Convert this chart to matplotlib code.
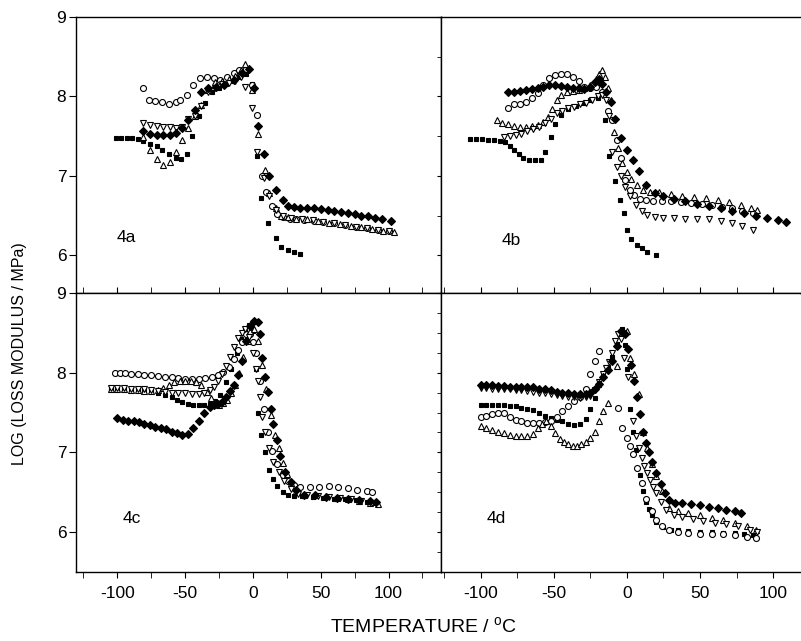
import matplotlib
matplotlib.use("Agg")
import matplotlib.pyplot as plt
from matplotlib.ticker import MultipleLocator

plt.rcParams['font.family'] = ['Liberation Sans', 'DejaVu Sans']
plt.rcParams['mathtext.fontset'] = 'custom'
plt.rcParams['mathtext.rm'] = 'Liberation Sans'
plt.rcParams['axes.unicode_minus'] = False

# ---- 4a ----
a_sq_t = [-101, -97, -93, -89, -85, -81, -76, -71, -67, -62, -57, -53, -49, -45, -40, -35, -30, -25, -20, -15, -10, -5, -1, 3, 6, 11, 17, 21, 26, 30, 35]
a_sq_v = [7.48, 7.48, 7.47, 7.47, 7.46, 7.44, 7.40, 7.37, 7.33, 7.27, 7.23, 7.21, 7.28, 7.50, 7.75, 7.92, 8.05, 8.10, 8.15, 8.19, 8.24, 8.28, 8.15, 7.25, 6.72, 6.41, 6.22, 6.10, 6.06, 6.04, 6.01]
a_ci_t = [-81, -77, -72, -67, -62, -57, -54, -49, -44, -39, -34, -29, -24, -19, -14, -10, -5, -1, 3, 7, 10, 14, 18, 22, 27, 32, 38, 45, 52, 60, 68, 76, 84, 92, 100]
a_ci_v = [8.10, 7.95, 7.94, 7.93, 7.91, 7.93, 7.95, 8.02, 8.14, 8.23, 8.25, 8.23, 8.21, 8.25, 8.29, 8.33, 8.35, 8.14, 7.77, 7.00, 6.80, 6.62, 6.52, 6.48, 6.46, 6.45, 6.44, 6.43, 6.42, 6.40, 6.38, 6.36, 6.34, 6.32, 6.30]
a_tu_t = [-81, -76, -71, -66, -61, -57, -52, -48, -43, -38, -33, -28, -23, -18, -13, -9, -6, -1, 4, 9, 12, 17, 21, 26, 32, 40, 48, 56, 64, 72, 80, 88, 96, 104]
a_tu_v = [7.49, 7.32, 7.21, 7.14, 7.17, 7.30, 7.45, 7.60, 7.75, 7.89, 8.08, 8.18, 8.20, 8.22, 8.26, 8.33, 8.41, 8.08, 7.53, 7.07, 6.78, 6.59, 6.50, 6.48, 6.46, 6.45, 6.43, 6.41, 6.39, 6.37, 6.35, 6.33, 6.31, 6.29]
a_td_t = [-81, -76, -71, -66, -61, -57, -52, -48, -43, -38, -33, -28, -23, -18, -13, -9, -6, -1, 3, 8, 12, 17, 22, 28, 36, 44, 52, 60, 68, 76, 84, 92, 100]
a_td_v = [7.66, 7.64, 7.63, 7.62, 7.61, 7.60, 7.62, 7.72, 7.75, 7.88, 8.06, 8.10, 8.15, 8.17, 8.20, 8.24, 8.12, 7.85, 7.30, 6.97, 6.74, 6.57, 6.50, 6.47, 6.45, 6.44, 6.42, 6.40, 6.38, 6.36, 6.34, 6.32, 6.30]
a_di_t = [-81, -76, -71, -66, -61, -57, -52, -48, -43, -38, -33, -27, -21, -14, -8, -3, 1, 4, 8, 12, 17, 22, 26, 30, 35, 40, 45, 50, 55, 60, 65, 70, 75, 80, 85, 90, 95, 102]
a_di_v = [7.57, 7.53, 7.52, 7.51, 7.52, 7.54, 7.60, 7.70, 7.83, 8.05, 8.11, 8.12, 8.14, 8.21, 8.29, 8.35, 8.10, 7.63, 7.27, 7.00, 6.82, 6.69, 6.62, 6.61, 6.60, 6.59, 6.59, 6.58, 6.57, 6.56, 6.55, 6.53, 6.52, 6.50, 6.49, 6.47, 6.45, 6.43]

# ---- 4b ----
b_sq_t = [-107, -103, -99, -95, -91, -87, -83, -80, -77, -74, -71, -67, -63, -59, -56, -52, -49, -45, -40, -35, -30, -25, -20, -15, -12, -8, -5, -2, 0, 3, 7, 10, 14, 20]
b_sq_v = [7.46, 7.46, 7.46, 7.45, 7.45, 7.44, 7.42, 7.37, 7.32, 7.27, 7.23, 7.20, 7.20, 7.20, 7.30, 7.49, 7.65, 7.77, 7.84, 7.88, 7.92, 7.96, 7.98, 7.70, 7.25, 6.93, 6.70, 6.53, 6.32, 6.21, 6.13, 6.09, 6.04, 6.00]
b_ci_t = [-81, -77, -73, -69, -65, -61, -57, -53, -49, -45, -41, -37, -33, -29, -25, -21, -17, -13, -10, -7, -4, -1, 2, 5, 9, 13, 18, 24, 30, 37, 44, 51, 58, 65, 72, 79, 86]
b_ci_v = [7.85, 7.90, 7.91, 7.93, 7.98, 8.04, 8.14, 8.23, 8.27, 8.28, 8.28, 8.25, 8.19, 8.12, 8.10, 8.12, 8.05, 7.82, 7.70, 7.45, 7.22, 6.95, 6.82, 6.76, 6.71, 6.69, 6.68, 6.68, 6.68, 6.67, 6.66, 6.65, 6.63, 6.61, 6.59, 6.56, 6.53]
b_tu_t = [-89, -85, -81, -77, -73, -69, -65, -61, -57, -54, -51, -48, -45, -41, -37, -33, -29, -25, -21, -19, -17, -15, -13, -11, -9, -6, -3, 0, 3, 7, 11, 16, 22, 30, 38, 46, 54, 62, 70, 78, 85, 89]
b_tu_v = [7.70, 7.67, 7.65, 7.63, 7.62, 7.62, 7.63, 7.64, 7.68, 7.74, 7.84, 7.95, 8.02, 8.05, 8.07, 8.08, 8.10, 8.14, 8.22, 8.28, 8.33, 8.25, 8.10, 7.95, 7.55, 7.35, 7.16, 7.05, 6.96, 6.88, 6.82, 6.80, 6.79, 6.77, 6.75, 6.73, 6.72, 6.70, 6.67, 6.63, 6.59, 6.57]
b_td_t = [-84, -80, -76, -72, -68, -64, -60, -56, -52, -48, -44, -40, -36, -32, -28, -24, -20, -17, -14, -12, -10, -7, -4, -1, 2, 6, 10, 14, 19, 25, 32, 40, 48, 56, 64, 72, 79, 86]
b_td_v = [7.49, 7.50, 7.51, 7.53, 7.56, 7.59, 7.62, 7.66, 7.72, 7.79, 7.82, 7.85, 7.87, 7.90, 7.92, 7.95, 8.01, 8.02, 7.95, 7.75, 7.30, 7.11, 7.00, 6.86, 6.74, 6.63, 6.56, 6.51, 6.48, 6.47, 6.47, 6.46, 6.46, 6.45, 6.43, 6.40, 6.37, 6.32]
b_di_t = [-81, -77, -73, -69, -65, -61, -57, -53, -49, -45, -41, -37, -33, -29, -25, -22, -19, -17, -14, -11, -8, -4, 0, 4, 8, 13, 19, 25, 32, 40, 48, 56, 64, 72, 80, 88, 96, 103, 109]
b_di_v = [8.05, 8.06, 8.07, 8.08, 8.09, 8.11, 8.12, 8.14, 8.14, 8.13, 8.12, 8.11, 8.10, 8.09, 8.12, 8.18, 8.22, 8.15, 8.06, 7.93, 7.72, 7.47, 7.32, 7.20, 7.06, 6.89, 6.78, 6.74, 6.71, 6.68, 6.65, 6.62, 6.59, 6.56, 6.53, 6.50, 6.47, 6.44, 6.42]

# ---- 4c ----
c_sq_t = [-105, -100, -95, -90, -85, -80, -75, -70, -65, -60, -56, -52, -48, -44, -40, -36, -32, -28, -24, -20, -16, -12, -9, -6, -3, 0, 2, 4, 6, 9, 12, 15, 18, 22, 26, 30, 36, 44, 52, 60, 68, 76, 84, 90]
c_sq_v = [7.80, 7.80, 7.80, 7.79, 7.79, 7.78, 7.77, 7.75, 7.72, 7.69, 7.66, 7.63, 7.61, 7.60, 7.59, 7.59, 7.61, 7.64, 7.72, 7.88, 8.05, 8.25, 8.42, 8.55, 8.60, 8.52, 8.05, 7.50, 7.22, 7.00, 6.78, 6.66, 6.58, 6.50, 6.46, 6.45, 6.45, 6.44, 6.43, 6.42, 6.41, 6.40, 6.38, 6.37]
c_ci_t = [-102, -98, -94, -90, -85, -80, -75, -70, -65, -60, -55, -50, -45, -40, -35, -30, -26, -22, -18, -14, -11, -8, -5, -2, 0, 2, 5, 8, 11, 14, 18, 22, 26, 30, 35, 42, 49, 56, 63, 70, 77, 84, 88]
c_ci_v = [8.00, 8.00, 7.99, 7.98, 7.98, 7.97, 7.97, 7.96, 7.95, 7.94, 7.93, 7.92, 7.92, 7.92, 7.93, 7.94, 7.97, 8.01, 8.07, 8.17, 8.28, 8.38, 8.48, 8.48, 8.38, 8.25, 7.90, 7.55, 7.25, 7.02, 6.85, 6.72, 6.64, 6.59, 6.57, 6.57, 6.57, 6.58, 6.57, 6.55, 6.53, 6.51, 6.50]
c_tu_t = [-105, -100, -95, -90, -85, -80, -75, -70, -66, -62, -58, -54, -50, -46, -42, -38, -34, -31, -28, -25, -22, -19, -16, -13, -10, -7, -4, -2, 1, 4, 7, 10, 13, 16, 19, 22, 25, 28, 32, 38, 46, 54, 62, 70, 78, 86, 92]
c_tu_v = [7.79, 7.79, 7.79, 7.78, 7.78, 7.77, 7.77, 7.78, 7.81, 7.85, 7.88, 7.89, 7.90, 7.90, 7.88, 7.84, 7.76, 7.68, 7.62, 7.60, 7.62, 7.66, 7.74, 7.85, 8.00, 8.20, 8.40, 8.52, 8.55, 8.40, 8.10, 7.80, 7.47, 7.22, 7.05, 6.87, 6.73, 6.62, 6.52, 6.47, 6.46, 6.45, 6.43, 6.41, 6.39, 6.37, 6.35]
c_td_t = [-105, -100, -95, -90, -85, -80, -75, -70, -65, -60, -55, -50, -45, -40, -36, -32, -29, -26, -23, -20, -17, -14, -11, -8, -6, -3, 0, 2, 4, 5, 7, 9, 12, 15, 19, 23, 28, 33, 40, 48, 56, 64, 72, 80, 88]
c_td_v = [7.81, 7.81, 7.81, 7.80, 7.80, 7.79, 7.78, 7.77, 7.76, 7.75, 7.75, 7.74, 7.73, 7.73, 7.75, 7.78, 7.82, 7.89, 7.98, 8.08, 8.20, 8.32, 8.43, 8.50, 8.55, 8.45, 8.25, 8.05, 7.89, 7.70, 7.45, 7.25, 7.05, 6.88, 6.75, 6.64, 6.54, 6.48, 6.46, 6.45, 6.44, 6.43, 6.41, 6.39, 6.37]
c_di_t = [-100, -96, -92, -88, -84, -80, -76, -72, -68, -64, -60, -56, -52, -48, -44, -40, -36, -32, -29, -26, -23, -20, -17, -14, -11, -8, -5, -2, 1, 4, 5, 7, 9, 11, 13, 15, 18, 20, 24, 28, 32, 38, 46, 54, 62, 70, 78, 86, 91]
c_di_v = [7.43, 7.41, 7.40, 7.39, 7.38, 7.36, 7.34, 7.32, 7.31, 7.29, 7.26, 7.24, 7.22, 7.23, 7.30, 7.40, 7.50, 7.57, 7.60, 7.61, 7.63, 7.69, 7.77, 7.85, 7.97, 8.15, 8.40, 8.58, 8.65, 8.63, 8.48, 8.19, 7.94, 7.76, 7.55, 7.35, 7.15, 6.95, 6.76, 6.63, 6.53, 6.47, 6.46, 6.44, 6.43, 6.42, 6.40, 6.39, 6.38]

# ---- 4d ----
d_sq_t = [-100, -96, -92, -88, -84, -80, -76, -72, -68, -64, -60, -56, -52, -48, -44, -40, -36, -32, -28, -25, -22, -19, -16, -13, -10, -7, -5, -3, -1, 0, 2, 4, 6, 9, 11, 13, 15, 17, 20, 25, 30, 35, 42, 50, 58, 66, 74, 80, 86]
d_sq_v = [7.60, 7.60, 7.60, 7.59, 7.59, 7.58, 7.58, 7.56, 7.55, 7.53, 7.50, 7.46, 7.43, 7.41, 7.39, 7.35, 7.34, 7.36, 7.42, 7.55, 7.68, 7.85, 7.96, 8.07, 8.20, 8.36, 8.48, 8.55, 8.35, 8.05, 7.55, 7.25, 7.03, 6.72, 6.52, 6.38, 6.29, 6.22, 6.13, 6.06, 6.03, 6.02, 6.01, 6.00, 6.00, 5.99, 5.99, 5.98, 5.96]
d_ci_t = [-100, -96, -92, -88, -84, -80, -76, -72, -68, -64, -60, -56, -52, -48, -44, -40, -36, -32, -28, -25, -22, -19, -6, -3, 0, 2, 4, 7, 10, 13, 17, 20, 24, 29, 35, 42, 50, 58, 66, 74, 82, 88]
d_ci_v = [7.45, 7.46, 7.48, 7.50, 7.49, 7.45, 7.41, 7.39, 7.37, 7.37, 7.37, 7.38, 7.39, 7.44, 7.52, 7.58, 7.64, 7.70, 7.80, 7.98, 8.15, 8.27, 7.56, 7.31, 7.18, 7.08, 6.98, 6.80, 6.62, 6.42, 6.26, 6.15, 6.07, 6.03, 6.00, 5.99, 5.98, 5.98, 5.97, 5.96, 5.94, 5.92]
d_tu_t = [-100, -96, -92, -88, -84, -80, -76, -72, -68, -64, -61, -58, -55, -52, -49, -46, -43, -40, -37, -34, -31, -28, -25, -22, -19, -16, -13, -7, -3, 0, 2, 5, 8, 11, 14, 17, 20, 24, 29, 35, 42, 50, 58, 66, 74, 82, 88]
d_tu_v = [7.33, 7.30, 7.28, 7.26, 7.24, 7.22, 7.21, 7.20, 7.20, 7.23, 7.30, 7.36, 7.39, 7.33, 7.24, 7.17, 7.13, 7.10, 7.08, 7.08, 7.10, 7.13, 7.18, 7.26, 7.40, 7.52, 7.62, 8.08, 8.50, 8.52, 8.19, 7.98, 7.73, 7.26, 7.05, 6.85, 6.70, 6.52, 6.30, 6.27, 6.24, 6.21, 6.18, 6.15, 6.11, 6.07, 6.03]
d_td_t = [-100, -96, -92, -88, -84, -80, -76, -72, -68, -64, -60, -56, -52, -48, -44, -40, -36, -32, -28, -25, -22, -19, -16, -14, -12, -10, -8, -6, -4, -2, 1, 4, 6, 8, 10, 12, 14, 16, 18, 20, 23, 27, 32, 38, 45, 52, 60, 68, 76, 84, 89]
d_td_v = [7.81, 7.81, 7.80, 7.80, 7.79, 7.79, 7.78, 7.78, 7.77, 7.76, 7.75, 7.74, 7.73, 7.72, 7.71, 7.70, 7.69, 7.68, 7.69, 7.71, 7.78, 7.88, 7.98, 8.06, 8.14, 8.25, 8.40, 8.48, 8.42, 8.19, 7.94, 7.40, 7.20, 7.05, 6.93, 6.83, 6.74, 6.65, 6.57, 6.49, 6.38, 6.28, 6.22, 6.19, 6.16, 6.14, 6.12, 6.10, 6.07, 6.03, 6.00]
d_di_t = [-100, -96, -92, -88, -84, -80, -76, -72, -68, -64, -60, -56, -52, -48, -44, -40, -36, -32, -28, -25, -22, -19, -16, -13, -10, -7, -4, -1, 1, 3, 5, 7, 9, 11, 13, 15, 17, 20, 23, 26, 29, 33, 38, 44, 50, 56, 62, 68, 74, 78]
d_di_v = [7.85, 7.84, 7.84, 7.83, 7.83, 7.82, 7.82, 7.82, 7.82, 7.82, 7.80, 7.79, 7.78, 7.76, 7.75, 7.74, 7.73, 7.73, 7.73, 7.75, 7.80, 7.86, 7.94, 8.03, 8.15, 8.34, 8.52, 8.48, 8.30, 8.10, 7.90, 7.70, 7.48, 7.26, 7.12, 7.00, 6.88, 6.74, 6.60, 6.49, 6.40, 6.37, 6.36, 6.35, 6.34, 6.32, 6.30, 6.28, 6.26, 6.24]

panels = [
    ("4a", [(a_sq_t, a_sq_v), (a_ci_t, a_ci_v), (a_tu_t, a_tu_v), (a_td_t, a_td_v), (a_di_t, a_di_v)]),
    ("4b", [(b_sq_t, b_sq_v), (b_ci_t, b_ci_v), (b_tu_t, b_tu_v), (b_td_t, b_td_v), (b_di_t, b_di_v)]),
    ("4c", [(c_sq_t, c_sq_v), (c_ci_t, c_ci_v), (c_tu_t, c_tu_v), (c_td_t, c_td_v), (c_di_t, c_di_v)]),
    ("4d", [(d_sq_t, d_sq_v), (d_ci_t, d_ci_v), (d_tu_t, d_tu_v), (d_td_t, d_td_v), (d_di_t, d_di_v)]),
]

# marker, size, face
styles = [("s", 3.0, "k"), ("o", 4.3, "w"), ("^", 5.0, "w"), ("v", 5.0, "w"), ("D", 4.3, "k")]

W, H = 801, 641
fig = plt.figure(figsize=(W / 100, H / 100), dpi=100)

# axes boxes in pixels: left, top, right, bottom
boxes = [(76, 17, 441, 293), (441, 17, 800, 293), (76, 293, 441, 572), (441, 293, 800, 572)]
xlims = [(-130.5, 138.7), (-127, 118.3), (-130.5, 138.7), (-127, 118.3)]
ylims = [(5.524, 9), (5.524, 9), (5.499, 9), (5.499, 9)]
label_pos = [(0.112, 0.20), (0.17, 0.19), (0.129, 0.19), (0.128, 0.19)]

for i, (name, series) in enumerate(panels):
    l, t, r, b = boxes[i]
    ax = fig.add_axes([l / W, 1 - b / H, (r - l) / W, (b - t) / H])
    for (tt, vv), (m, ms, fc) in zip(series, styles):
        ax.plot(tt, vv, linestyle="none", marker=m, ms=ms, mfc=fc, mec="k", mew=0.8)
    ax.set_xlim(*xlims[i])
    ax.set_ylim(*ylims[i])
    ax.xaxis.set_major_locator(MultipleLocator(50))
    ax.xaxis.set_minor_locator(MultipleLocator(25))
    ax.yaxis.set_major_locator(MultipleLocator(1))
    ax.yaxis.set_minor_locator(MultipleLocator(0.5 if i != 3 else 0.25))
    for sp in ax.spines.values():
        sp.set_linewidth(1.0)
    left_col = i in (0, 2)
    bottom_row = i in (2, 3)
    if left_col:
        ax.tick_params(axis="y", which="both", direction="out", left=True, right=False,
                       labelsize=12.5, pad=2, length=5)
        ax.tick_params(axis="y", which="minor", length=0)
    else:
        ax.spines["right"].set_visible(False)
        ax.tick_params(axis="y", which="both", direction="out", left=True, right=False,
                       labelleft=False, length=3)
    if bottom_row:
        ax.tick_params(axis="x", which="both", direction="out", top=False, bottom=True,
                       labelsize=12.5, pad=6, length=4)
    else:
        ax.tick_params(axis="x", which="both", direction="in", top=False, bottom=True,
                       labelbottom=False, length=4)
    ax.text(label_pos[i][0], label_pos[i][1], name, transform=ax.transAxes,
            fontsize=12.5, va="center", ha="left")

fig.text(424 / W, 1 - 627 / H, r"TEMPERATURE / $^{\rm o}$C", ha="center", va="center", fontsize=14)
fig.text(20 / W, 1 - 354 / H, "LOG (LOSS MODULUS / MPa)", rotation=90,
         ha="center", va="center", fontsize=11.5)

fig.savefig("out.png", dpi=100)
